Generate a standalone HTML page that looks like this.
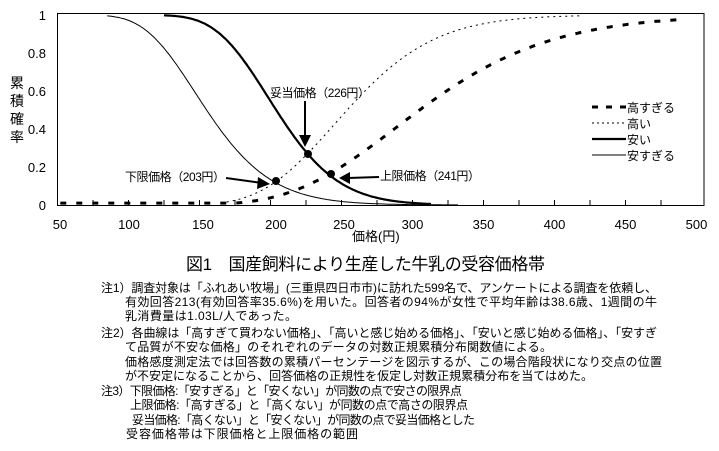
<!DOCTYPE html>
<html><head><meta charset="utf-8"><style>
body{margin:0;background:#fff;}
svg{display:block;font-family:"Liberation Sans","Noto Sans CJK JP",sans-serif;}
</style></head><body>
<svg id="s" width="719" height="451" xmlns="http://www.w3.org/2000/svg">
<rect x="57.5" y="13.5" width="646.5" height="192" fill="none" stroke="#000" stroke-width="1"/>
<g id="ticks" stroke="#000"></g>
<g font-size="13" text-anchor="middle" fill="#000">
<text x="60" y="229">50</text><text x="129" y="229">100</text><text x="203" y="229">150</text>
<text x="276" y="229">200</text><text x="344" y="229">250</text>
</g>
<g id="xl" font-size="13" text-anchor="middle"></g>
<g font-size="13" text-anchor="end">
<text x="46" y="20">1</text><text x="46" y="58">0.8</text><text x="46" y="96">0.6</text>
<text x="46" y="134">0.4</text><text x="46" y="172">0.2</text><text x="46" y="210">0</text>
</g>
<g font-size="14" text-anchor="middle">
<text x="17" y="88">累</text><text x="17" y="106">積</text><text x="17" y="124">確</text><text x="17" y="142">率</text>
</g>
<g id="curves" fill="none" stroke="#000"></g>
<g font-size="12">
<text x="270" y="97" textLength="100">妥当価格（226円）</text>
<text x="125" y="181" textLength="100">下限価格（203円）</text>
<text x="380" y="180" textLength="100">上限価格（241円）</text>
</g>
<g stroke="#000" stroke-width="2">
<line x1="305" y1="101" x2="305" y2="137"/>
<line x1="226" y1="178" x2="262" y2="183"/>
<line x1="379" y1="177" x2="348" y2="178"/>
</g>
<polygon points="299,135 311,135 305,147" fill="#000"/>
<polygon points="258,177 270,184 257,189" fill="#000"/>
<polygon points="350,172 339,178 350,184" fill="#000"/>
<circle cx="308" cy="154" r="4" fill="#000"/>
<circle cx="276" cy="181" r="4" fill="#000"/>
<circle cx="331" cy="174" r="4" fill="#000"/>
<g stroke="#000">
<line x1="592" y1="107" x2="626" y2="107" stroke-width="3" stroke-dasharray="6,8"/>
<line x1="592" y1="123" x2="626" y2="123" stroke-width="1" stroke-dasharray="2,3"/>
<line x1="592" y1="139" x2="626" y2="139" stroke-width="2.2"/>
<line x1="592" y1="155" x2="626" y2="155" stroke-width="1"/>
</g>
<g font-size="12">
<text x="627" y="112">高すぎる</text><text x="627" y="128">高い</text>
<text x="627" y="144">安い</text><text x="627" y="160">安すぎる</text>
</g>
<text x="352" y="241" font-size="13">価格(円)</text>
<text x="186" y="270" font-size="17" textLength="359">図1　国産飼料により生産した牛乳の受容価格帯</text>
<g font-size="12" lengthAdjust="spacingAndGlyphs">
<text x="101" y="292" textLength="556">注1）調査対象は「ふれあい牧場」(三重県四日市市)に訪れた599名で、アンケートによる調査を依頼し、</text>
<text x="125" y="306" textLength="532">有効回答213(有効回答率35.6%)を用いた。回答者の94%が女性で平均年齢は38.6歳、1週間の牛</text>
<text x="125" y="320" textLength="172">乳消費量は1.03L/人であった。</text>
<text x="101" y="337" textLength="556">注2）各曲線は「高すぎて買わない価格」、「高いと感じ始める価格」、「安いと感じ始める価格」、「安すぎ</text>
<text x="125" y="351" textLength="427">て品質が不安な価格」のそれぞれのデータの対数正規累積分布関数値による。</text>
<text x="125" y="366" textLength="537">価格感度測定法では回答数の累積パーセンテージを図示するが、この場合階段状になり交点の位置</text>
<text x="125" y="380" textLength="468">が不安定になることから、回答価格の正規性を仮定し対数正規累積分布を当てはめた。</text>
<text x="101" y="395" textLength="361">注3）下限価格:「安すぎる」と「安くない」が同数の点で安さの限界点</text>
<text x="130" y="409" textLength="338">上限価格:「高すぎる」と「高くない」が同数の点で高さの限界点</text>
<text x="132" y="424" textLength="343">妥当価格:「高くない」と「安くない」が同数の点で妥当価格とした</text>
<text x="126" y="438" textLength="232">受容価格帯は下限価格と上限価格の範囲</text>
</g>
</svg>
<script>
const X=v=>57.5+(v-50)*1.42, Y=p=>205-p*190;
function erf(x){const s=x<0?-1:1;x=Math.abs(x);const t=1/(1+0.3275911*x);
return s*(1-(((((1.061405429*t-1.453152027)*t)+1.421413741)*t-0.284496736)*t+0.254829592)*t*Math.exp(-x*x));}
const cdf=(v,m,s)=>0.5*(1+erf(Math.log(v/m)/s/Math.SQRT2));
const ns="http://www.w3.org/2000/svg";
function path(f,a,b,attrs){let d="";for(let v=a;v<=b;v+=1){d+=(d?"L":"M")+X(v).toFixed(1)+","+Y(f(v)).toFixed(1);}
const p=document.createElementNS(ns,"path");p.setAttribute("d",d);for(const k in attrs)p.setAttribute(k,attrs[k]);document.getElementById("curves").appendChild(p);}
path(v=>1-cdf(v,155,0.23),85,332,{"stroke-width":1});
path(v=>1-cdf(v,204,0.168),125,313,{"stroke-width":2.2});
path(v=>cdf(v,254,0.19),165,418,{"stroke-width":1,"stroke-dasharray":"2,4"});
path(v=>Math.max(0.01,cdf(v,305,0.238)),52,490,{"stroke-width":3,"stroke-dasharray":"6,10"});
const tk=document.getElementById("ticks");
for(let v=75;v<500;v+=25){const l=document.createElementNS(ns,"line");l.setAttribute("x1",X(v));l.setAttribute("x2",X(v));l.setAttribute("y1",205);l.setAttribute("y2",200);tk.appendChild(l);}
const xl=document.getElementById("xl");
for(const v of [300,350,400,450,500]){const t=document.createElementNS(ns,"text");t.setAttribute("x",X(v));t.setAttribute("y",229);t.textContent=v;xl.appendChild(t);}
</script>
</body></html>
